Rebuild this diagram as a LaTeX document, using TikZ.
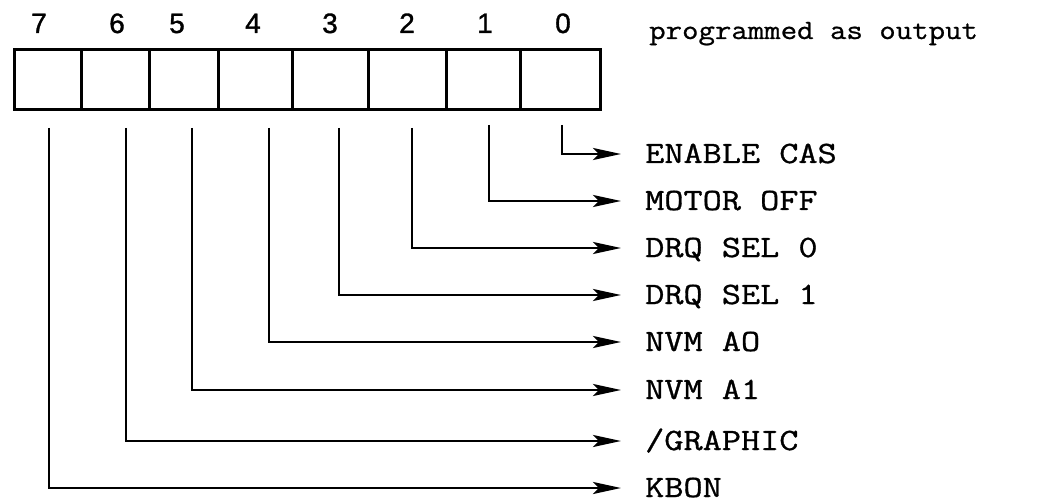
\documentclass[tikz,border=0pt]{standalone}
\usepackage{fontspec}
\setsansfont{Liberation Sans}
\newfontfamily\lblfont[FakeStretch=1.2,FakeBold=1]{Latin Modern Mono}
\newfontfamily\ttlfont[FakeStretch=1.14,FakeBold=0.8]{Latin Modern Mono}
\newfontfamily\numfont[FakeBold=1.2]{Liberation Sans}
\usetikzlibrary{arrows.meta}
\begin{document}
\begin{tikzpicture}[x=1pt,y=-1pt,
  cell/.style={draw, line width=2.8pt, minimum height=60pt, inner sep=0pt, anchor=north west},
  bitnum/.style={font=\numfont\fontsize{28}{30}\selectfont, anchor=base, inner sep=0pt},
  lbl/.style={font=\lblfont\fontsize{31}{36}\selectfont, anchor=west, inner sep=0pt, text height=18pt, text depth=0pt},
  sig/.style={line width=2.8pt, -{Stealth[length=28pt,width=12pt,inset=6pt]}, shorten >=24pt}]
\useasboundingbox (0,0) rectangle (1045,500);
% register cells
\node[cell, minimum width=67pt] (c7) at (13,48) {};
\node[cell, minimum width=68pt] (c6) at (80,48) {};
\node[cell, minimum width=69pt] (c5) at (148,48) {};
\node[cell, minimum width=74pt] (c4) at (217,48) {};
\node[cell, minimum width=76pt] (c3) at (291,48) {};
\node[cell, minimum width=78pt] (c2) at (367,48) {};
\node[cell, minimum width=74pt] (c1) at (445,48) {};
\node[cell, minimum width=80pt] (c0) at (519,48) {};
% bit numbers
\node[bitnum] (n7) at (39,33) {7};
\node[bitnum] (n6) at (117,33) {6};
\node[bitnum] (n5) at (177,33) {5};
\node[bitnum] (n4) at (253,33) {4};
\node[bitnum] (n3) at (330,33) {3};
\node[bitnum] (n2) at (407,33) {2};
\node[bitnum] (n1) at (485,33) {1};
\node[bitnum] (n0) at (563,33) {0};
% title
\node[font=\ttlfont\fontsize{28}{30}\selectfont, anchor=base west, inner sep=0pt] (title) at (649,39) {programmed as output};
% labels
\node[lbl] (l0) at (645,154) {ENABLE CAS};
\node[lbl] (l1) at (645,201) {MOTOR OFF};
\node[lbl] (l2) at (645,248) {DRQ SEL 0};
\node[lbl] (l3) at (645,295) {DRQ SEL 1};
\node[lbl] (l4) at (645,342) {NVM AO};
\node[lbl] (l5) at (645,390) {NVM A1};
\node[lbl] (l6) at (645,441) {/GRAPHIC};
\node[lbl] (l7) at (645,488) {KBON};
% signal start points
\coordinate (s0) at (562,125);
\coordinate (s1) at (489,125);
\coordinate (s2) at (412,128);
\coordinate (s3) at (339,128);
\coordinate (s4) at (269,128);
\coordinate (s5) at (192,128);
\coordinate (s6) at (126,128);
\coordinate (s7) at (49,128);
\foreach \i in {0,...,7}{
  \draw[sig] (s\i) |- (l\i.west);
}
\end{tikzpicture}
\end{document}
